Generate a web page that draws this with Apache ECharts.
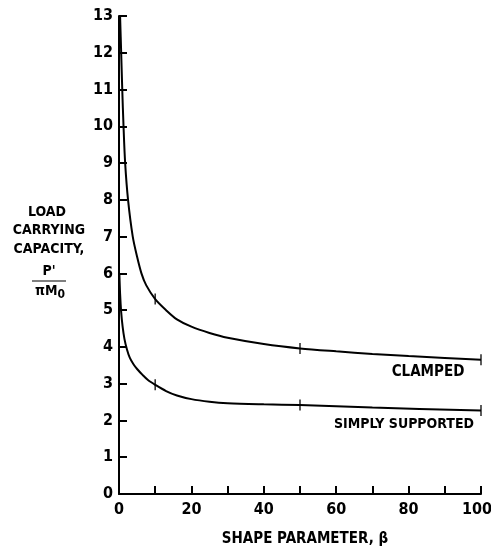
<!DOCTYPE html>
<html><head><meta charset="utf-8">
<script src="https://cdn.jsdelivr.net/npm/echarts@6/dist/echarts.min.js"></script>
<style>html,body{margin:0;padding:0;background:#fff}#c{width:491px;height:547px}</style>
</head><body><div id="c"></div>
<script>
const clampedBeta = [0.3, 0.6, 0.9, 1.25, 1.7, 2.5, 3.8, 5.0, 6.2, 7.5, 10, 13, 16, 20, 25, 30, 40, 50, 60, 70, 80, 90, 100];
const clampedVal  = [13, 12, 11, 10, 9, 8, 7, 6.45, 6.0, 5.68, 5.3, 5.0, 4.75, 4.55, 4.38, 4.25, 4.08, 3.96, 3.88, 3.81, 3.75, 3.7, 3.65];
const simpleBeta  = [0.1, 0.3, 0.6, 1.0, 1.5, 2.2, 3, 4, 5, 6.5, 8, 10, 13, 16, 20, 25, 30, 40, 50, 70, 100];
const simpleVal   = [6.0, 5.45, 4.95, 4.55, 4.22, 3.93, 3.7, 3.53, 3.4, 3.24, 3.1, 2.97, 2.8, 2.68, 2.58, 2.51, 2.47, 2.44, 2.42, 2.35, 2.27];
const markBeta = [10, 50, 100];
const xTickLabels = ['0', '20', '40', '60', '80', '100'];
const seriesNames = ['CLAMPED', 'SIMPLY SUPPORTED'];

const FONT = '"DejaVu Sans Condensed","Liberation Sans Narrow",sans-serif';
const chart = echarts.init(document.getElementById('c'));
function pairs(xs, ys) { return xs.map((x, i) => [x, ys[i]]); }
function marks(xs, ys) { return xs.filter(x => markBeta.includes(x)).map(x => [x, ys[xs.indexOf(x)]]); }

chart.setOption({
  animation: false,
  grid: { left: 119, right: 10, top: 16, bottom: 53, outerBoundsMode: 'none', containLabel: false },
  xAxis: {
    type: 'value', min: 0, max: 100, interval: 10,
    axisLine: { lineStyle: { color: '#000', width: 2 } },
    axisTick: { inside: true, length: 8, lineStyle: { color: '#000', width: 2 } },
    splitLine: { show: false },
    axisLabel: {
      color: '#000', fontFamily: FONT, fontWeight: 'bold', fontSize: 16, margin: 8,
      formatter: v => {
        const s = String(v);
        if (!xTickLabels.includes(s)) return '';
        return s === '100' ? '{e|' + s + '}' : s;
      },
      rich: { e: { fontFamily: FONT, fontWeight: 'bold', fontSize: 16, color: '#000', padding: [0, 8, 0, 0] } }
    },
    name: 'SHAPE PARAMETER, β', nameLocation: 'middle', nameGap: 45, nameMoveOverlap: false,
    nameTextStyle: { color: '#000', fontFamily: FONT, fontWeight: 'bold', fontSize: 15, verticalAlign: 'middle', padding: [0, 0, 0, 10] }
  },
  yAxis: {
    type: 'value', min: 0, max: 13, interval: 1,
    axisLine: { lineStyle: { color: '#000', width: 2 } },
    axisTick: { inside: true, length: 8, lineStyle: { color: '#000', width: 2 } },
    splitLine: { show: false },
    axisLabel: { color: '#000', fontFamily: FONT, fontWeight: 'bold', fontSize: 16, margin: 6 }
  },
  series: [
    { name: seriesNames[0], type: 'line', data: pairs(clampedBeta, clampedVal), smooth: 0.3,
      showSymbol: false, lineStyle: { color: '#000', width: 2 } },
    { name: seriesNames[1], type: 'line', data: pairs(simpleBeta, simpleVal), smooth: 0.3,
      showSymbol: false, lineStyle: { color: '#000', width: 2 } },
    { type: 'scatter', data: marks(clampedBeta, clampedVal).concat(marks(simpleBeta, simpleVal)),
      symbol: 'rect', symbolSize: [1.6, 11], itemStyle: { color: '#000' } }
  ],
  graphic: [
    { type: 'text', x: 428, y: 372, style: { text: seriesNames[0], font: 'bold 15px ' + FONT, fill: '#000', align: 'center', verticalAlign: 'middle' } },
    { type: 'text', x: 404, y: 424, style: { text: seriesNames[1], font: 'bold 14px ' + FONT, fill: '#000', align: 'center', verticalAlign: 'middle' } },
    { type: 'text', x: 47, y: 212, style: { text: 'LOAD', font: 'bold 14px ' + FONT, fill: '#000', align: 'center', verticalAlign: 'middle' } },
    { type: 'text', x: 49, y: 230, style: { text: 'CARRYING', font: 'bold 14px ' + FONT, fill: '#000', align: 'center', verticalAlign: 'middle' } },
    { type: 'text', x: 49, y: 249, style: { text: 'CAPACITY,', font: 'bold 14px ' + FONT, fill: '#000', align: 'center', verticalAlign: 'middle' } },
    { type: 'text', x: 49, y: 271, style: { text: "P'", font: 'bold 14px ' + FONT, fill: '#000', align: 'center', verticalAlign: 'middle' } },
    { type: 'line', shape: { x1: 32, y1: 281, x2: 66, y2: 281 }, style: { stroke: '#000', lineWidth: 1.2 } },
    { type: 'text', x: 50, y: 291, style: {
        text: '{a|πM}{b|0}', fill: '#000', align: 'center', verticalAlign: 'middle',
        rich: { a: { font: 'bold 14px ' + FONT, fill: '#000' }, b: { font: 'bold 12px ' + FONT, fill: '#000', padding: [8, 0, 0, 0] } } } }
  ]
});
</script></body></html>
